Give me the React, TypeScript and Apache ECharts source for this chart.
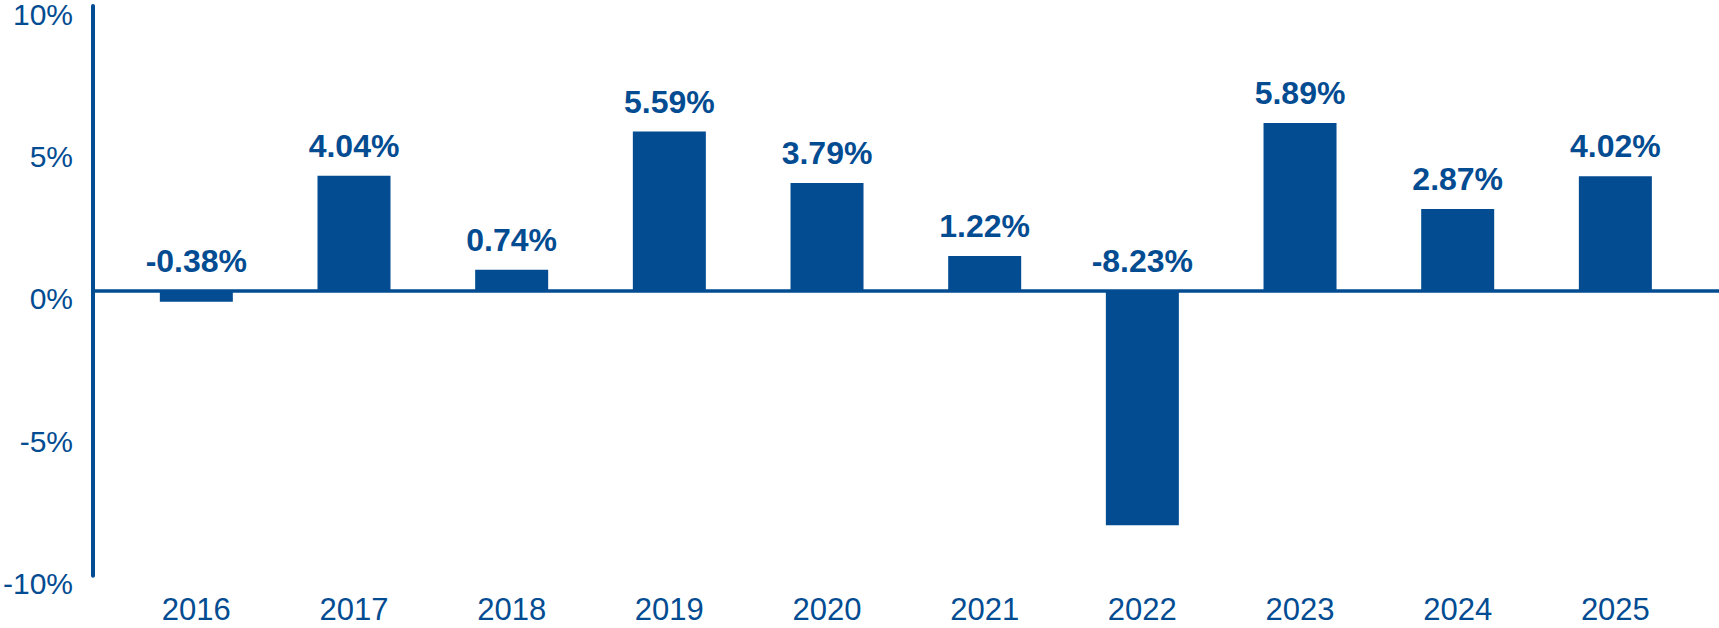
import React, { useEffect, useRef } from "react";
import * as echarts from "echarts";

const years = ["2016", "2017", "2018", "2019", "2020", "2021", "2022", "2023", "2024", "2025"];
const returns = [-0.38, 4.04, 0.74, 5.59, 3.79, 1.22, -8.23, 5.89, 2.87, 4.02];
const yMin = -10;
const yMax = 10;
const yStep = 5;

const BLUE = "#034C92";
const FONT = "'Liberation Sans', Arial, Helvetica, sans-serif";

export default function App() {
  const ref = useRef<HTMLDivElement>(null);
  useEffect(() => {
    if (!ref.current) return;
    const chart = echarts.init(ref.current, null, { renderer: "svg" });
    chart.setOption({
      animation: false,
      backgroundColor: "#ffffff",
      textStyle: { fontFamily: FONT },
      grid: [
        { left: 93, right: 0, top: 6, bottom: 52.3, containLabel: false, outerBoundsMode: "none" },
        { left: 117.5, right: 24.8, top: 6, bottom: 52.3, containLabel: false, outerBoundsMode: "none" },
      ],
      xAxis: [
        {
          type: "value",
          gridIndex: 0,
          min: 0,
          max: 1,
          axisLine: { show: true, onZero: true, lineStyle: { color: BLUE, width: 3.5 } },
          axisTick: { show: false },
          axisLabel: { show: false },
          splitLine: { show: false },
        },
        {
          type: "category",
          gridIndex: 1,
          data: years,
          position: "bottom",
          axisLine: { show: false, onZero: false },
          axisTick: { show: false },
          splitLine: { show: false },
          axisLabel: {
            color: BLUE,
            fontSize: 31,
            fontFamily: FONT,
            margin: 18,
          },
        },
      ],
      yAxis: [
        {
          type: "value",
          gridIndex: 0,
          min: yMin,
          max: yMax,
          interval: yStep,
          axisLine: { show: true, lineStyle: { color: BLUE, width: 4 } },
          axisTick: { show: false },
          splitLine: { show: false },
          axisLabel: {
            color: BLUE,
            fontSize: 30,
            fontFamily: FONT,
            margin: 20,
            verticalAlign: "top",
            lineHeight: 16,
            formatter: (v: number) => `${v}%`,
          },
        },
        {
          type: "value",
          gridIndex: 1,
          min: yMin,
          max: yMax,
          interval: yStep,
          show: false,
          splitLine: { show: false },
        },
      ],
      series: [
        {
          type: "bar",
          xAxisIndex: 1,
          yAxisIndex: 1,
          data: returns,
          barWidth: 73,
          itemStyle: { color: BLUE },
          label: {
            show: true,
            position: "top",
            distance: 14,
            color: BLUE,
            fontSize: 32,
            fontWeight: "bold",
            fontFamily: FONT,
            formatter: (p: any) => `${Number(p.value).toFixed(2)}%`,
          },
        },
      ],
    });
    return () => chart.dispose();
  }, []);
  return (
    <div
      ref={ref}
      style={{ position: "fixed", left: 0, top: 0, width: 1719, height: 628, background: "#fff" }}
    />
  );
}
